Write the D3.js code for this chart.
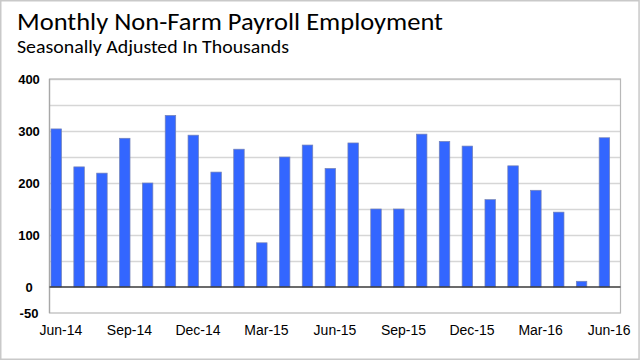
<!DOCTYPE html>
<html>
<head>
<meta charset="utf-8">
<script src="https://cdn.jsdelivr.net/npm/d3@7/dist/d3.min.js"></script>
<style>
  html, body { margin: 0; padding: 0; background: #fff; }
  svg { display: block; }
</style>
</head>
<body>
<script>
// ---- data ----
const months = ["Jun-14","Jul-14","Aug-14","Sep-14","Oct-14","Nov-14","Dec-14",
  "Jan-15","Feb-15","Mar-15","Apr-15","May-15","Jun-15","Jul-15","Aug-15","Sep-15",
  "Oct-15","Nov-15","Dec-15","Jan-16","Feb-16","Mar-16","Apr-16","May-16","Jun-16"];
const payrolls = [304,231,219,286,200,330,292,221,265,85,250,273,228,277,150,150,
  294,280,271,168,233,186,144,11,287];
const xTickLabels = ["Jun-14","Sep-14","Dec-14","Mar-15","Jun-15","Sep-15","Dec-15","Mar-16","Jun-16"];
const yTickValues = [-50,0,100,200,300,400];
const gridValues = [50,100,150,200,250,300,350,400];
const titleText = "Monthly Non-Farm Payroll Employment";
const subtitleText = "Seasonally Adjusted In Thousands";

// ---- layout ----
const W = 640, H = 361;
const plot = { left: 49.5, right: 620.5, top: 79, bottom: 313 };

const svg = d3.select("body").append("svg").attr("width", W).attr("height", H);

// outer frame
svg.append("rect").attr("x", 0.75).attr("y", 0.75).attr("width", 638.3).attr("height", 358.5)
  .attr("fill", "#fff").attr("stroke", "#c9c9c9").attr("stroke-width", 1.5);

// titles
const titleFont = "Carlito, Calibri, Lato, 'Open Sans', sans-serif";
svg.append("text").attr("x", 17).attr("y", 29.5).text(titleText)
  .attr("font-family", titleFont).attr("font-size", 23.5).attr("fill", "#000")
  .attr("textLength", 426).attr("lengthAdjust", "spacingAndGlyphs");
svg.append("text").attr("x", 17).attr("y", 53).text(subtitleText)
  .attr("font-family", titleFont).attr("font-size", 18).attr("fill", "#000")
  .attr("textLength", 272).attr("lengthAdjust", "spacingAndGlyphs");

// scales
const x = d3.scaleBand().domain(months).range([plot.left, plot.right]).paddingInner(0).paddingOuter(0);
const y = d3.scaleLinear().domain([-50, 400]).range([plot.bottom, plot.top]);

// gridlines
const grid = svg.append("g").attr("transform", `translate(${plot.left},0)`)
  .call(d3.axisLeft(y).tickValues(gridValues).tickSize(-(plot.right - plot.left)).tickFormat(""));
grid.select(".domain").remove();
grid.selectAll("line").attr("stroke", "#d6d6d6").attr("stroke-width", 1.3);

// plot border
svg.append("rect").attr("x", plot.left).attr("y", plot.top)
  .attr("width", plot.right - plot.left).attr("height", plot.bottom - plot.top)
  .attr("fill", "none").attr("stroke", "#b8b8b8").attr("stroke-width", 1.2);
svg.append("line").attr("x1", plot.left).attr("x2", plot.left).attr("y1", plot.top).attr("y2", plot.bottom)
  .attr("stroke", "#a8a8a8").attr("stroke-width", 1.3);

// bars
const barOffset = 1.5, barW = 10.5;
svg.append("g").selectAll("rect").data(months).join("rect")
  .attr("x", (d) => x(d) + barOffset)
  .attr("width", barW)
  .attr("y", (d, i) => y(Math.max(0, payrolls[i])))
  .attr("height", (d, i) => Math.abs(y(payrolls[i]) - y(0)))
  .attr("fill", "#3366ff")
  .attr("stroke", "#7683b5").attr("stroke-width", 0.7);

// zero line
svg.append("line").attr("x1", plot.left).attr("x2", plot.right)
  .attr("y1", y(0)).attr("y2", y(0)).attr("stroke", "#3a3a3a").attr("stroke-width", 1.4);

// y axis labels
const yAx = svg.append("g").attr("transform", "translate(29,0)")
  .call(d3.axisLeft(y).tickValues(yTickValues).tickSize(0).tickPadding(0).tickFormat((d) => String(d)));
yAx.select(".domain").remove();
yAx.selectAll("text").attr("text-anchor", "middle")
  .attr("font-family", "'Liberation Sans', Arial, sans-serif")
  .attr("font-size", 13).attr("font-weight", "bold").attr("fill", "#000");

// x axis labels
const xAx = svg.append("g").attr("transform", "translate(0,325)")
  .call(d3.axisBottom(x).tickValues(xTickLabels).tickSize(0).tickPadding(0));
xAx.select(".domain").remove();
xAx.selectAll("text")
  .attr("font-family", "'Liberation Sans', Arial, sans-serif")
  .attr("font-size", 14).attr("fill", "#000");
</script>
</body>
</html>
